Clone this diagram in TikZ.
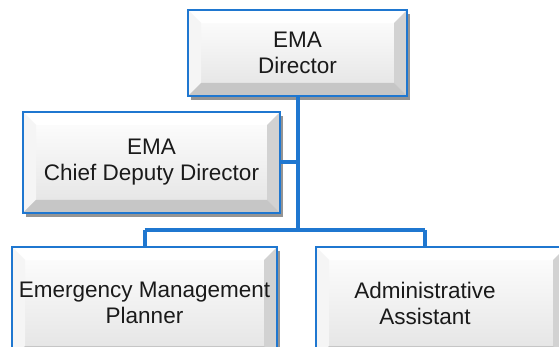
\documentclass[tikz,border=0pt]{standalone}
\usepackage{fontspec}
\setmainfont{Liberation Sans}
\usetikzlibrary{positioning, shadows}
\definecolor{emablue}{HTML}{1F77D0}
\definecolor{ematext}{HTML}{1A1A1A}

\begin{document}
\begin{tikzpicture}[x=1pt, y=-1pt,
        box/.style={draw=emablue, line width=1.6pt, top color=white, bottom color=gray!22,
            drop shadow={shadow xshift=3pt, shadow yshift=-4pt, opacity=.6, fill=black!70},
            text=ematext, align=center, inner sep=0pt,
            font=\fontsize{22.5}{26}\selectfont,
            path picture={
              \coordinate (nw) at (path picture bounding box.north west);
              \coordinate (ne) at (path picture bounding box.north east);
              \coordinate (sw) at (path picture bounding box.south west);
              \coordinate (se) at (path picture bounding box.south east);
              \fill[white] (nw) -- (ne) -- ([shift={(-13pt,-13pt)}]ne) -- ([shift={(13pt,-13pt)}]nw) -- cycle;
              \fill[gray!8] (nw) -- ([shift={(13pt,-13pt)}]nw) -- ([shift={(13pt,13pt)}]sw) -- (sw) -- cycle;
              \fill[gray!35] (ne) -- ([shift={(-13pt,-13pt)}]ne) -- ([shift={(-13pt,13pt)}]se) -- (se) -- cycle;
              \fill[gray!45] (sw) -- ([shift={(13pt,13pt)}]sw) -- ([shift={(-13pt,13pt)}]se) -- (se) -- cycle;
            }},
        link/.style={draw=emablue, line width=4pt}
    ]
      \useasboundingbox (0,0) rectangle (559,347);
      \clip (0,0) rectangle (559,347);
      % Director
      \node[box, minimum width=219pt, minimum height=86pt] (director) at (297.5,53) {EMA\\Director};
      % Chief deputy
      \node[box, minimum width=257pt, minimum height=101pt] (chief) at (151.5,162.5) {EMA\\Chief Deputy Director};
      % Planner
      \node[box, minimum width=265pt, minimum height=112pt] (planner) at (144.5,303) {Emergency Management\\Planner};
      % Administrative assistant
      \node[box, minimum width=250pt, minimum height=112pt] (admin) at (441,303) {};
      \node[text=ematext, align=center, font=\fontsize{22.5}{26}\selectfont] (admintext) at (425,303) {Administrative\\Assistant};
      % connectors
      \coordinate (split) at (298,230);
      \coordinate (adminjoin) at (425,230);
      \draw[link] (director.south -| split) -- (split);
      \draw[link] (chief.east) -- (chief.east -| split);
      \draw[link] (planner.north |- split) -- (adminjoin);
      \draw[link] (planner.north |- split) -- (planner.north);
      \draw[link] (adminjoin) -- (adminjoin |- admin.north);
\end{tikzpicture}
\end{document}
